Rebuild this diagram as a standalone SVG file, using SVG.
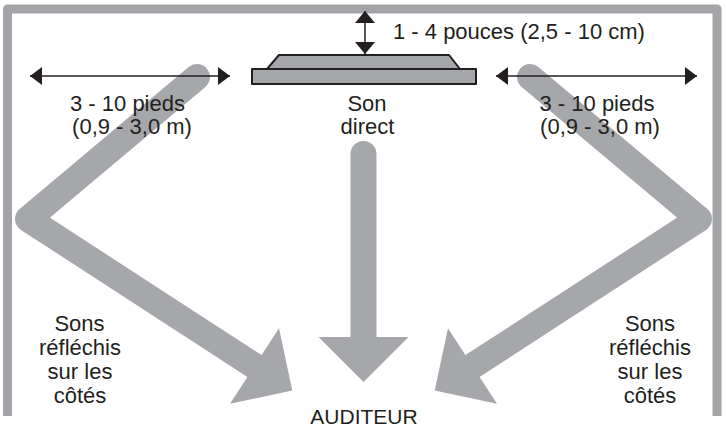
<svg xmlns="http://www.w3.org/2000/svg" width="726" height="432" viewBox="0 0 726 432">
<style>
.wall{fill:none;stroke:#a3a4a7;stroke-width:9;stroke-linejoin:round}
.ray{fill:none;stroke:#a6a7aa;stroke-width:26;stroke-linecap:round;stroke-linejoin:round}
.head{fill:#a6a7aa}
.dim{stroke:#231f20;stroke-width:1.5;fill:none}
.spk{fill:#a6a7aa;stroke:#231f20;stroke-width:2;stroke-linejoin:round}
text{font-family:"Liberation Sans",Arial,Helvetica,sans-serif;font-size:22px;fill:#231f20}
.m{text-anchor:middle}
</style>
<defs>
<marker id="ah" viewBox="0 0 12 18" refX="12" refY="9" markerWidth="12" markerHeight="18" markerUnits="userSpaceOnUse" orient="auto-start-reverse"><path d="M0 0L12 9L0 18Z" fill="#231f20"/></marker>
<marker id="av" viewBox="0 0 12 20" refX="12" refY="10" markerWidth="12" markerHeight="20" markerUnits="userSpaceOnUse" orient="auto-start-reverse"><path d="M0 0L12 10L0 20Z" fill="#231f20"/></marker>
</defs>
<g id="room"><path class="wall" d="M7.5 416V9H717V416"/></g>
<g id="connectors">
<path class="ray" d="M197 77L28 219L254.5 366"/>
<polygon class="head" points="230,403.8 279,328.2 292.3,390.5"/>
<path class="ray" d="M530 77L699 219L472.5 366"/>
<polygon class="head" points="497,403.8 448,328.2 434.7,390.5"/>
<path class="ray" d="M363.5 154V337"/>
<polygon class="head" points="318.5,337 408.5,337 363.5,382"/>
<line class="dim" x1="30" y1="76" x2="230" y2="76" marker-start="url(#ah)" marker-end="url(#ah)"/>
<line class="dim" x1="496" y1="76" x2="697" y2="76" marker-start="url(#ah)" marker-end="url(#ah)"/>
<line class="dim" x1="365" y1="11" x2="365" y2="54" marker-start="url(#av)" marker-end="url(#av)"/>
</g>
<g id="speaker">
<polygon class="spk" points="279,55 449,55 460,69 267,69"/>
<rect class="spk" x="252" y="69" width="224" height="15"/>
</g>
<g id="labels">
<text x="393" y="39">1 - 4 pouces (2,5 - 10 cm)</text>
<text class="m" x="127.5" y="111">3 - 10 pieds</text>
<text class="m" x="132" y="134">(0,9 - 3,0 m)</text>
<text class="m" x="597" y="111">3 - 10 pieds</text>
<text class="m" x="600" y="134">(0,9 - 3,0 m)</text>
<text class="m" x="367" y="111">Son</text>
<text class="m" x="367.5" y="134">direct</text>
<text class="m" x="79.5" y="331">Sons</text>
<text class="m" x="80" y="355">réfléchis</text>
<text class="m" x="80" y="379">sur les</text>
<text class="m" x="80" y="403">côtés</text>
<text class="m" x="650" y="331">Sons</text>
<text class="m" x="650" y="355">réfléchis</text>
<text class="m" x="650" y="379">sur les</text>
<text class="m" x="650" y="403">côtés</text>
<text class="m" x="364" y="424" style="font-size:21px">AUDITEUR</text>
</g>
</svg>
